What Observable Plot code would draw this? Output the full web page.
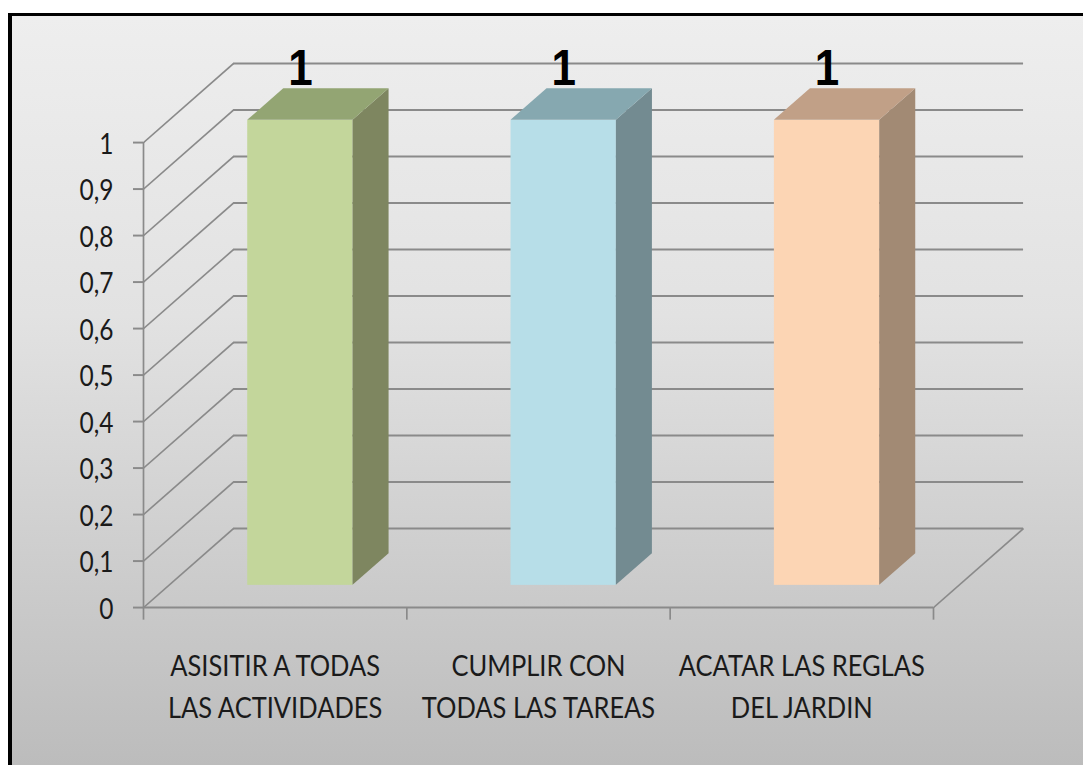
<!DOCTYPE html>
<html>
<head>
<meta charset="utf-8">
<script src="https://cdn.jsdelivr.net/npm/d3@7"></script>
<script src="https://cdn.jsdelivr.net/npm/@observablehq/plot@0.6"></script>
<style>
  html, body { margin: 0; padding: 0; background: #ffffff; }
  #wrap { position: relative; width: 1083px; height: 765px; overflow: hidden; background: #ffffff; }
  #panel { position: absolute; left: 8px; top: 13px; right: 0; bottom: 0;
           border-left: 4px solid #000; border-top: 3px solid #000;
           background: linear-gradient(#eeeeee, #e2e2e2 40%, #bcbcbc); }
  .vlab text { font-family: "Liberation Sans", Roboto, sans-serif !important; font-weight: 700 !important; }
</style>
</head>
<body>
<div id="wrap"><div id="panel"></div></div>
<script>
// ---- data ----
const categories = ["ASISITIR A TODAS\nLAS ACTIVIDADES", "CUMPLIR CON\nTODAS LAS TAREAS", "ACATAR LAS REGLAS\nDEL JARDIN"];
const values = [1, 1, 1];
const valueLabels = ["1", "1", "1"];
const yTicks = [0, 0.1, 0.2, 0.3, 0.4, 0.5, 0.6, 0.7, 0.8, 0.9, 1];
const yTickLabels = ["0", "0,1", "0,2", "0,3", "0,4", "0,5", "0,6", "0,7", "0,8", "0,9", "1"];
const frontColors = ["#c3d69b", "#b7dee8", "#fcd5b4"];
const topColors = ["#93a573", "#86a8b0", "#c1a087"];
const sideColors = ["#7e8660", "#738b91", "#a28a74"];

// ---- style / geometry constants ----
const W = 1083, S = 1.15, H = 765 / S;
const DX = 0.342;   // full depth offset, in band units
const DY = 0.170;   // full depth offset, in value units
const D0 = 0.28, D1 = 0.68;   // bar depth span
const B0 = 0.3, B1 = 0.7;     // bar span inside band
const grid = "#8a8a8a";
const nCat = categories.length;

const bars = values.map((v, i) => ({i, v, xl: i + B0, xr: i + B1}));

const marks = [
  // back wall gridlines
  Plot.ruleY(yTicks, {y: t => t + DY, x1: DX, x2: nCat + DX, stroke: grid, strokeWidth: 1.7}),
  // side wall diagonals
  Plot.link(yTicks, {x1: 0, y1: t => t, x2: DX, y2: t => t + DY, stroke: grid, strokeWidth: 1.5}),
  // front value axis
  Plot.ruleX([0], {y1: 0, y2: 1, stroke: grid, strokeWidth: 1.7}),
  Plot.ruleY(yTicks, {y: t => t, x1: 0, x2: 0, insetLeft: -10, stroke: grid, strokeWidth: 1.7}),
  // floor front edge, right edge, category ticks
  Plot.ruleY([0], {x1: 0, x2: nCat, stroke: grid, strokeWidth: 1.7}),
  Plot.link([0], {x1: nCat, y1: 0, x2: nCat + DX, y2: DY, stroke: grid, strokeWidth: 1.5}),
  Plot.ruleX(d3.range(nCat + 1), {y1: 0, y2: 0, insetBottom: -11, stroke: grid, strokeWidth: 1.7}),
];

bars.forEach(b => {
  // front face
  marks.push(Plot.rect([b], {
    x1: d => d.xl + D0 * DX, x2: d => d.xr + D0 * DX,
    y1: D0 * DY, y2: d => d.v + D0 * DY, fill: frontColors[b.i]
  }));
  // side face
  marks.push(Plot.areaY([
    {x: b.xr + D0 * DX, y1: D0 * DY, y2: b.v + D0 * DY},
    {x: b.xr + D1 * DX, y1: D1 * DY, y2: b.v + D1 * DY}
  ], {x: "x", y1: "y1", y2: "y2", fill: sideColors[b.i]}));
  // top face
  marks.push(Plot.areaX([
    {y: b.v + D0 * DY, x1: b.xl + D0 * DX, x2: b.xr + D0 * DX},
    {y: b.v + D1 * DY, x1: b.xl + D1 * DX, x2: b.xr + D1 * DX}
  ], {y: "y", x1: "x1", x2: "x2", fill: topColors[b.i]}));
});

// value labels
marks.push(Plot.text(bars, {
  x: d => (d.xl + d.xr) / 2 + D0 * DX, y: d => d.v + D1 * DY,
  text: d => valueLabels[d.i], lineAnchor: "bottom", dy: -3,
  className: "vlab",
  fontFamily: "Liberation Sans", fontWeight: "bold", fontSize: 44, fill: "#000"
}));
// y tick labels
marks.push(Plot.text(yTicks, {
  x: 0, y: t => t, text: (t, i) => yTickLabels[i], textAnchor: "end", dx: -30, dy: 2,
  fontFamily: "Lato, sans-serif", fontSize: 24.5, fill: "#1a1a1a"
}));
// category labels
marks.push(Plot.text(categories, {
  x: (d, i) => i + 0.5, y: 0, text: d => d, dy: 65.8, lineAnchor: "middle", lineHeight: 1.44,
  fontFamily: "Lato, sans-serif", fontSize: 25.5, fill: "#1a1a1a"
}));

const svg = Plot.plot({
  width: W, height: H,
  margin: 0,
  x: {type: "linear", domain: [0, nCat], range: [143, 933], axis: null},
  y: {type: "linear", domain: [0, 1], range: [607 / S, 142 / S], axis: null},
  marks
});
svg.setAttribute("height", 765);
svg.setAttribute("viewBox", `0 0 ${W} ${H}`);
svg.setAttribute("preserveAspectRatio", "none");
svg.setAttribute("style", "position:absolute;left:0;top:0;width:1083px;height:765px;max-width:none;background:transparent;overflow:visible");
document.getElementById("wrap").appendChild(svg);
</script>
</body>
</html>
